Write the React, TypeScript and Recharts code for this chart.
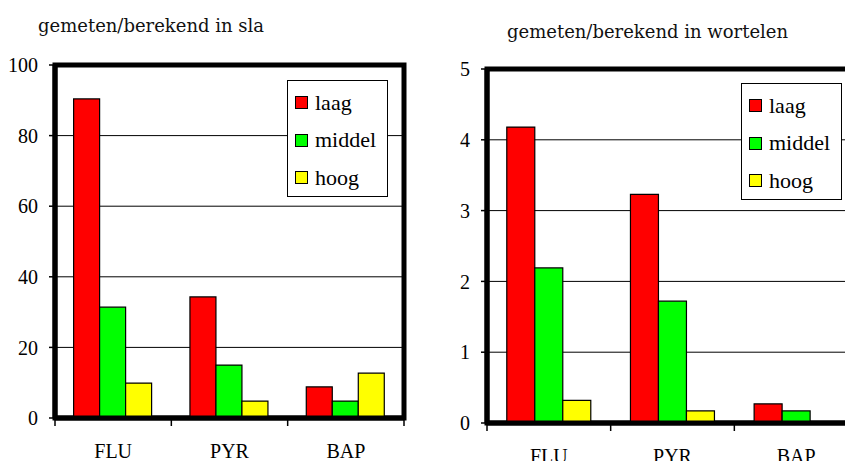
import { BarChart, Bar, XAxis, YAxis, CartesianGrid, Legend, ReferenceArea } from 'recharts';

const categories = ['FLU', 'PYR', 'BAP'];

// lettuce (sla)
const slaLaag = [90.4, 34.3, 8.8];
const slaMiddel = [31.4, 15.0, 4.8];
const slaHoog = [9.9, 4.8, 12.7];
const slaTicks = [0, 20, 40, 60, 80, 100];

// carrots (wortelen)
const wortelLaag = [4.18, 3.23, 0.27];
const wortelMiddel = [2.19, 1.72, 0.17];
const wortelHoog = [0.32, 0.17, 0.01];
const wortelTicks = [0, 1, 2, 3, 4, 5];

const series = [
    { key: 'laag', color: '#FF0000' },
    { key: 'middel', color: '#00FF00' },
    { key: 'hoog', color: '#FFFF00' },
];

const labelFont = '"Liberation Serif", serif';
const titleFont = '"DejaVu Serif", serif';

const buildRows = (laag: number[], middel: number[], hoog: number[]) =>
    categories.map((name, i) => ({ name, laag: laag[i], middel: middel[i], hoog: hoog[i] }));

const slaData = buildRows(slaLaag, slaMiddel, slaHoog);
const wortelData = buildRows(wortelLaag, wortelMiddel, wortelHoog);

const LegendBox = () => (
    <div
        style={{
            width: 101,
            height: 117,
            boxSizing: 'border-box',
            border: '1.5px solid #000',
            background: '#fff',
            paddingTop: 3,
            paddingLeft: 7,
            fontFamily: labelFont,
            fontSize: 22,
            color: '#000',
        }}
    >
        {series.map((s) => (
            <div key={s.key} style={{ display: 'flex', alignItems: 'center', height: 37.5 }}>
                <span
                    style={{
                        width: 11,
                        height: 11,
                        border: '1px solid #000',
                        background: s.color,
                        marginRight: 7,
                        flexShrink: 0,
                    }}
                />
                <span style={{ lineHeight: 1 }}>{s.key}</span>
            </div>
        ))}
    </div>
);

type PanelProps = {
    data: any[];
    ticks: number[];
    left: number;
    width: number;
    top: number;
    bottom: number;
    yAxisWidth: number;
    rightMargin: number;
    legendLeft: number;
    legendTop: number;
    title: string;
    titleLeft: number;
    titleTop: number;
};

const Panel = (p: PanelProps) => {
    const height = 461;
    const band = (p.width - p.yAxisWidth - p.rightMargin) / categories.length;
    const max = p.ticks[p.ticks.length - 1];

    // category label plus Excel-style tick marks on the category boundaries
    const CategoryTick = (props: any) => {
        const { x, y, payload, index } = props;
        return (
            <g>
                <line x1={x - band / 2} x2={x - band / 2} y1={y} y2={y + 8} stroke="#000" strokeWidth={1.5} />
                {index === categories.length - 1 && (
                    <line x1={x + band / 2} x2={x + band / 2} y1={y} y2={y + 8} stroke="#000" strokeWidth={1.5} />
                )}
                <text x={x} y={y + 40} textAnchor="middle" fontFamily={labelFont} fontSize={20} fill="#000">
                    {payload.value}
                </text>
            </g>
        );
    };

    return (
        <div style={{ position: 'absolute', left: p.left, top: 0 }}>
            <div
                style={{
                    position: 'absolute',
                    left: p.titleLeft - p.left,
                    top: p.titleTop,
                    fontFamily: titleFont,
                    fontSize: 18,
                    lineHeight: 1,
                    whiteSpace: 'nowrap',
                    color: '#111',
                    zIndex: 2,
                }}
            >
                {p.title}
            </div>
            <BarChart
                width={p.width}
                height={height}
                data={p.data}
                margin={{ top: p.top, right: p.rightMargin, bottom: 0, left: 0 }}
                barCategoryGap="16%"
                barGap={0}
            >
                <CartesianGrid vertical={false} stroke="#000" strokeWidth={1} />
                {/* heavy plot frame */}
                <ReferenceArea
                    x1={categories[0]}
                    x2={categories[categories.length - 1]}
                    y1={0}
                    y2={max}
                    fill="none"
                    stroke="#000"
                    strokeWidth={5}
                    ifOverflow="visible"
                />
                <XAxis
                    dataKey="name"
                    height={height - p.bottom}
                    axisLine={{ stroke: '#000', strokeWidth: 5 }}
                    tickLine={false}
                    tickSize={0}
                    tickMargin={0}
                    interval={0}
                    tick={<CategoryTick />}
                />
                <YAxis
                    width={p.yAxisWidth}
                    domain={[0, max]}
                    ticks={p.ticks}
                    interval={0}
                    axisLine={{ stroke: '#000', strokeWidth: 5 }}
                    tickLine={{ stroke: '#000', strokeWidth: 1.5 }}
                    tickSize={6}
                    tickMargin={11}
                    tick={{ fill: '#000', fontSize: 20, fontFamily: labelFont }}
                />
                <Legend
                    layout="vertical"
                    align="center"
                    verticalAlign="middle"
                    content={() => <LegendBox />}
                    wrapperStyle={{ left: p.legendLeft - p.left, top: p.legendTop, width: 'auto' }}
                />
                {series.map((s) => (
                    <Bar key={s.key} dataKey={s.key} fill={s.color} stroke="#000" strokeWidth={1.2} isAnimationActive={false} />
                ))}
            </BarChart>
        </div>
    );
};

const App = () => (
    <div style={{ position: 'fixed', left: 0, top: 0, width: 845, height: 461, overflow: 'hidden', background: '#fff' }}>
        <Panel
            data={slaData}
            ticks={slaTicks}
            left={0}
            width={420}
            top={65}
            bottom={418}
            yAxisWidth={55}
            rightMargin={16}
            legendLeft={287}
            legendTop={80}
            title="gemeten/berekend in sla"
            titleLeft={38}
            titleTop={17}
        />
        <Panel
            data={wortelData}
            ticks={wortelTicks}
            left={420}
            width={440}
            top={69}
            bottom={423}
            yAxisWidth={67}
            rightMargin={2}
            legendLeft={741}
            legendTop={83}
            title="gemeten/berekend in wortelen"
            titleLeft={507}
            titleTop={23}
        />
    </div>
);

export default App;
